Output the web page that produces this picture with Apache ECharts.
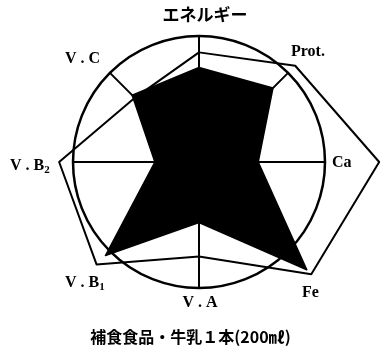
<!DOCTYPE html>
<html>
<head>
<meta charset="utf-8">
<script src="https://cdn.jsdelivr.net/npm/echarts@6/dist/echarts.min.js"></script>
<style>
  html, body { margin: 0; padding: 0; background: #fff; }
  #main { width: 381px; height: 356px; }
</style>
</head>
<body>
<div id="main"></div>
<script>
// indicators, counter-clockwise from top (echarts radar order)
let indicatorNames = ["エネルギー", "V.C", "V.B2", "V.B1", "V.A", "Fe", "Ca", "Prot."];
// ratio to requirement (circle = 1)
let snackValues = [0.75, 0.75, 0.35, 1.05, 0.48, 1.21, 0.47, 0.83];
let milkValues = [0.87, 0.72, 1.11, 1.15, 0.75, 1.26, 1.43, 1.08];
let titleText = "補食食品・牛乳１本(200㎖)";

let latin = { fontFamily: "Liberation Serif", fontWeight: "bold", fontSize: 16, fill: "#000" };
let richSub = {
  m: { fontFamily: "Liberation Serif", fontWeight: "bold", fontSize: 16, lineHeight: 20 },
  sub: { fontFamily: "Liberation Serif", fontWeight: "bold", fontSize: 11, verticalAlign: "bottom", lineHeight: 11 }
};
function label(x, y, text, align) {
  return {
    type: "text",
    x: x,
    y: y,
    silent: true,
    style: Object.assign({}, latin, {
      text: text,
      align: align || "left",
      verticalAlign: "middle",
      rich: richSub
    })
  };
}

let mycharts = echarts.init(document.getElementById("main"));
let option = {
  animation: false,
  title: {
    text: titleText,
    left: "center",
    bottom: 6,
    textStyle: {
      fontFamily: "Noto Sans CJK JP",
      fontWeight: "bold",
      fontSize: 16,
      color: "#000"
    }
  },
  // axis names placed by hand to follow the original layout
  graphic: [
    {
      type: "text",
      x: 205,
      y: 15,
      silent: true,
      style: {
        text: indicatorNames[0],
        fontFamily: "Noto Sans CJK JP",
        fontWeight: "bold",
        fontSize: 17,
        fill: "#000",
        align: "center",
        verticalAlign: "middle"
      }
    },
    label(291, 52, indicatorNames[7]),
    label(332, 163, indicatorNames[6]),
    label(302, 293, indicatorNames[5]),
    label(200, 303, "V . A", "center"),
    label(65, 283, "{m|V . B}{sub|1}"),
    label(10, 166, "{m|V . B}{sub|2}"),
    label(65, 59, "V . C")
  ],
  radar: {
    center: [199, 162],
    radius: 126,
    shape: "circle",
    splitNumber: 1,
    indicator: indicatorNames.map(function(n) {
      return { name: n, min: 0, max: 1 };
    }),
    axisName: { show: false },
    splitLine: { lineStyle: { color: "#000", width: 2.5 } },
    splitArea: { show: false },
    axisLine: { lineStyle: { color: "#000", width: 2 } }
  },
  series: [
    {
      type: "radar",
      symbol: "none",
      data: [
        {
          value: milkValues,
          lineStyle: { color: "#000", width: 2 },
          areaStyle: { opacity: 0 }
        },
        {
          value: snackValues,
          lineStyle: { color: "#000", width: 1.5 },
          areaStyle: { color: "#000", opacity: 1 }
        }
      ]
    }
  ]
};
mycharts.setOption(option);
</script>
</body>
</html>
